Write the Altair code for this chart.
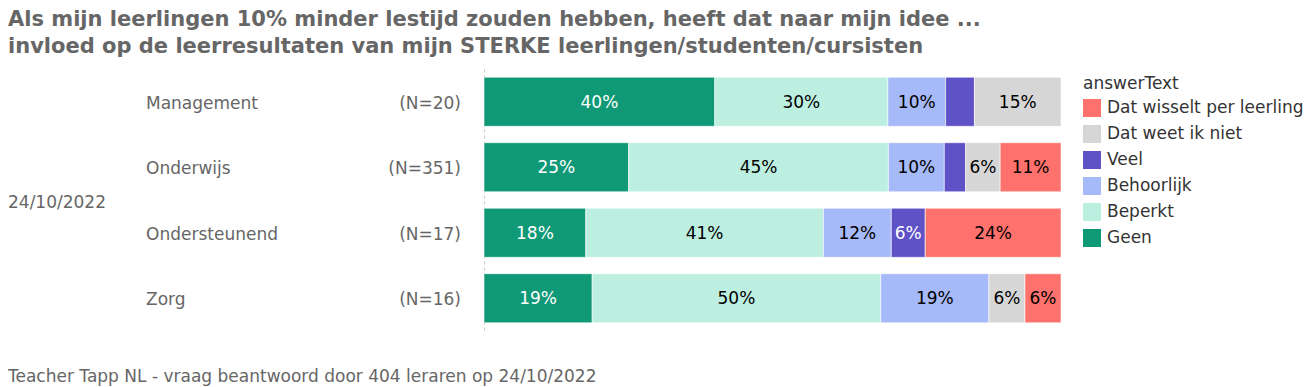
import altair as alt
import pandas as pd

title_lines = [
    "Als mijn leerlingen 10% minder lestijd zouden hebben, heeft dat naar mijn idee ...",
    "invloed op de leerresultaten van mijn STERKE leerlingen/studenten/cursisten",
]
footer = "Teacher Tapp NL - vraag beantwoord door 404 leraren op 24/10/2022"
date_label = "24/10/2022"

groups = ["Management", "Onderwijs", "Ondersteunend", "Zorg"]
ns = [20, 351, 17, 16]
answers = ["Geen", "Beperkt", "Behoorlijk", "Veel", "Dat weet ik niet", "Dat wisselt per leerling"]
colors = ["#0f9976", "#bcefe0", "#a6b9f8", "#5f52c6", "#d6d6d6", "#fe716c"]
white_text = ["Geen", "Veel"]

counts = {
    "Management":    [8, 6, 2, 1, 3, 0],
    "Onderwijs":     [88, 158, 34, 13, 21, 37],
    "Ondersteunend": [3, 7, 2, 1, 0, 4],
    "Zorg":          [3, 8, 3, 0, 1, 1],
}

rows = []
for g in groups:
    for i, a in enumerate(answers):
        c = counts[g][i]
        if c > 0:
            rows.append({"group": g, "answer": a, "idx": i, "count": c})
df = pd.DataFrame(rows)

lab_df = pd.DataFrame({"group": groups, "nlab": [f"(N={n})" for n in ns]})

GRAY = "#666666"
FONT = "DejaVu Sans"

yscale = alt.Scale(domain=groups, paddingInner=0.25, paddingOuter=0.125)
yenc = alt.Y("group:N", sort=groups, scale=yscale,
             axis=alt.Axis(title=None, labels=False, ticks=False, grid=False,
                           domain=True, domainDash=[3, 3], domainColor="#c8c8c8", domainWidth=1))

base = alt.Chart(df).transform_joinaggregate(
    total="sum(count)", groupby=["group"]
).transform_calculate(share="datum.count / datum.total")

bars = base.mark_bar(stroke="white", strokeWidth=0.6).encode(
    y=yenc,
    x=alt.X("share:Q", stack="zero", scale=alt.Scale(domain=[0, 1]), axis=None),
    color=alt.Color("answer:N",
                    scale=alt.Scale(domain=answers[::-1], range=colors[::-1]),
                    legend=alt.Legend(title="answerText", orient="none", legendX=599, legendY=7,
                                      symbolType="square", symbolSize=324, symbolStrokeWidth=0,
                                      labelFontSize=17, titleFontSize=17, titleFontWeight="normal",
                                      labelFont=FONT, titleFont=FONT, labelLimit=400,
                                      labelColor="#333333", titleColor="#333333",
                                      rowPadding=8, titlePadding=6, labelOffset=6)),
    order=alt.Order("idx:Q"),
)

stacked = base.transform_stack(
    stack="share", groupby=["group"], sort=[alt.SortField("idx", order="ascending")], as_=["s0", "s1"]
).transform_calculate(mid="(datum.s0 + datum.s1) / 2").transform_filter("datum.share >= 0.055")

cond_white = alt.FieldOneOfPredicate(field="answer", oneOf=white_text)

txt_white = stacked.transform_filter(cond_white).mark_text(
    fontSize=17, font=FONT, color="white", baseline="middle", dy=1
).encode(y=alt.Y("group:N", sort=groups), x="mid:Q", text=alt.Text("share:Q", format=".0%"))

txt_black = stacked.transform_filter(alt.LogicalNotPredicate(**{"not": cond_white})).mark_text(
    fontSize=17, font=FONT, color="black", baseline="middle", dy=1
).encode(y=alt.Y("group:N", sort=groups), x="mid:Q", text=alt.Text("share:Q", format=".0%"))

cat_labels = alt.Chart(lab_df).mark_text(
    align="left", baseline="middle", fontSize=17, font=FONT, color=GRAY, dy=2
).encode(y=alt.Y("group:N", sort=groups), x=alt.value(-338), text="group:N")

n_labels = alt.Chart(lab_df).mark_text(
    align="right", baseline="middle", fontSize=17, font=FONT, color=GRAY, dy=2
).encode(y=alt.Y("group:N", sort=groups), x=alt.value(-23), text="nlab:N")

date_df = pd.DataFrame({"t": [date_label]})
date_txt = alt.Chart(date_df).mark_text(
    align="left", baseline="middle", fontSize=17, font=FONT, color=GRAY
).encode(x=alt.value(-476), y=alt.value(134), text="t:N")

t1 = alt.Chart(pd.DataFrame({"t": [title_lines[0]]})).mark_text(
    align="left", baseline="alphabetic", fontSize=21, fontWeight="bold", font=FONT, color=GRAY
).encode(x=alt.value(-476), y=alt.value(-43), text="t:N")
t2 = alt.Chart(pd.DataFrame({"t": [title_lines[1]]})).mark_text(
    align="left", baseline="alphabetic", fontSize=21, fontWeight="bold", font=FONT, color=GRAY
).encode(x=alt.value(-476), y=alt.value(-16), text="t:N")

foot = alt.Chart(pd.DataFrame({"t": [footer]})).mark_text(
    align="left", baseline="alphabetic", fontSize=17, font=FONT, color=GRAY
).encode(x=alt.value(-476), y=alt.value(313), text="t:N")

chart = alt.layer(bars, txt_white, txt_black, cat_labels, n_labels, date_txt, t1, t2, foot).properties(
    width=577, height=262,
    autosize=alt.AutoSizeParams(type="none"),
    padding={"left": 476, "top": 61, "right": 243, "bottom": 56},
).configure(font=FONT).configure_view(strokeWidth=0, stroke="transparent")

chart.save("out.html", embed_options={"renderer": "svg", "actions": False})
